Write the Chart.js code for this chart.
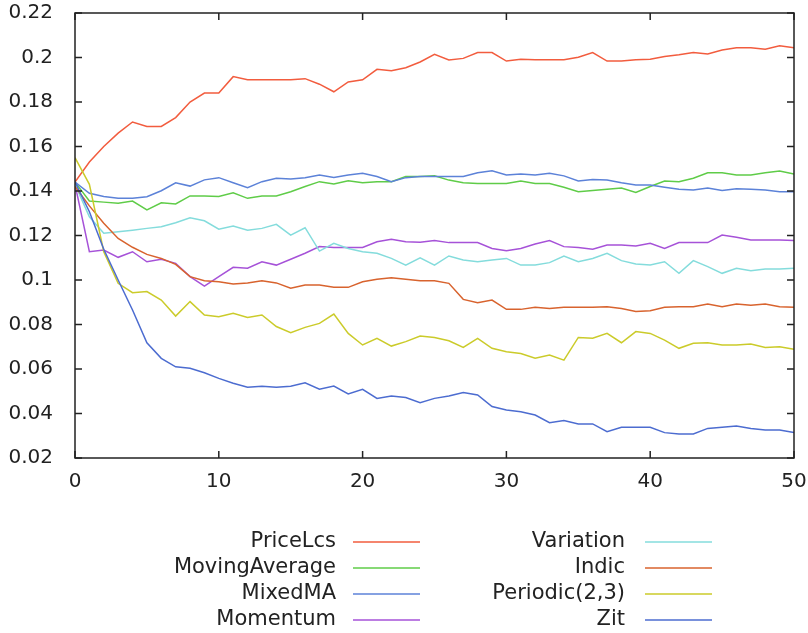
<!DOCTYPE html>
<html>
<head>
<meta charset="utf-8">
<script src="https://cdn.jsdelivr.net/npm/chart.js@4/dist/chart.umd.min.js"></script>
<style>
  html, body { margin: 0; padding: 0; background: #fff; }
  #wrap { width: 808px; height: 633px; position: relative; }
</style>
</head>
<body>
<div id="wrap"><canvas id="chart"></canvas></div>
<script>
const steps = [0, 1, 2, 3, 4, 5, 6, 7, 8, 9, 10, 11, 12, 13, 14, 15, 16, 17, 18, 19, 20,
  21, 22, 23, 24, 25, 26, 27, 28, 29, 30, 31, 32, 33, 34, 35, 36, 37, 38, 39, 40,
  41, 42, 43, 44, 45, 46, 47, 48, 49, 50];

const priceLcs = [0.144, 0.153, 0.160, 0.166, 0.171, 0.169, 0.169, 0.173, 0.180, 0.184, 0.184,
  0.1914, 0.190, 0.190, 0.190, 0.190, 0.1905, 0.188, 0.1846, 0.189, 0.190,
  0.1947, 0.194, 0.1954, 0.198, 0.2014, 0.1989, 0.1996, 0.2022, 0.2022, 0.1984,
  0.1992, 0.199, 0.199, 0.199, 0.2001, 0.2022, 0.1984, 0.1984, 0.199, 0.1992,
  0.2004, 0.2012, 0.2022, 0.2016, 0.2034, 0.2044, 0.2044, 0.2037, 0.2053, 0.2044];

const movingAverage = [0.144, 0.1355, 0.135, 0.1345, 0.1355, 0.1315, 0.1347, 0.1342, 0.1378, 0.1378, 0.1375,
  0.1392, 0.1367, 0.1378, 0.1378, 0.1397, 0.142, 0.1442, 0.1432, 0.1446, 0.1437,
  0.1442, 0.1442, 0.1465, 0.1465, 0.1468, 0.1449, 0.1437, 0.1434, 0.1434, 0.1434,
  0.1445, 0.1434, 0.1434, 0.1417, 0.1397, 0.1402, 0.1408, 0.1413, 0.1393, 0.142,
  0.1445, 0.1442, 0.1457, 0.1482, 0.1482, 0.1472, 0.1472, 0.1482, 0.149, 0.1476];

const mixedMA = [0.144, 0.139, 0.1375, 0.1367, 0.1367, 0.1374, 0.1401, 0.1437, 0.1422, 0.145, 0.146,
  0.1437, 0.1415, 0.1442, 0.1457, 0.1454, 0.146, 0.1472, 0.1461, 0.1472, 0.148,
  0.1465, 0.1442, 0.146, 0.1465, 0.1465, 0.1465, 0.1465, 0.1482, 0.1491, 0.1472,
  0.1476, 0.1472, 0.148, 0.1468, 0.1445, 0.1452, 0.1449, 0.1437, 0.1427, 0.1427,
  0.1417, 0.1408, 0.1405, 0.1413, 0.1402, 0.141, 0.1408, 0.1405, 0.1397, 0.1397];

const momentum = [0.143, 0.1127, 0.1135, 0.1102, 0.1127, 0.1082, 0.1093, 0.1075, 0.1015, 0.0973, 0.1015,
  0.1057, 0.1053, 0.1082, 0.1067, 0.1093, 0.112, 0.115, 0.1146, 0.1146, 0.1146,
  0.1172, 0.1183, 0.1172, 0.117, 0.1177, 0.1168, 0.1168, 0.1168, 0.1142, 0.1132,
  0.1142, 0.1162, 0.1177, 0.115, 0.1146, 0.1138, 0.1157, 0.1157, 0.1153, 0.1165,
  0.1142, 0.1168, 0.1168, 0.1168, 0.1202, 0.1192, 0.118, 0.118, 0.118, 0.1177];

const variation = [0.143, 0.1284, 0.121, 0.1217, 0.1224, 0.1232, 0.1239, 0.1257, 0.128, 0.1266, 0.1228,
  0.1243, 0.1224, 0.1232, 0.125, 0.1202, 0.1235, 0.113, 0.1165, 0.1142, 0.1127,
  0.112, 0.1097, 0.1067, 0.11, 0.1067, 0.1108, 0.109, 0.1082, 0.109, 0.1097,
  0.1067, 0.1067, 0.1078, 0.1108, 0.1082, 0.1097, 0.112, 0.1087, 0.1072, 0.1067,
  0.1082, 0.103, 0.1087, 0.106, 0.103, 0.1053, 0.1042, 0.1049, 0.1049, 0.1053];

const indic = [0.142, 0.1333, 0.1255, 0.1187, 0.1147, 0.1115, 0.1097, 0.107, 0.1015, 0.0997, 0.0992,
  0.0982, 0.0987, 0.0997, 0.0987, 0.0963, 0.0978, 0.0978, 0.0967, 0.0967, 0.0992,
  0.1003, 0.101, 0.1003, 0.0997, 0.0997, 0.0985, 0.0913, 0.0898, 0.091, 0.0868,
  0.0868, 0.0877, 0.0872, 0.0877, 0.0877, 0.0877, 0.088, 0.0872, 0.0858, 0.0862,
  0.0877, 0.088, 0.088, 0.0892, 0.088, 0.0892, 0.0887, 0.0892, 0.088, 0.0877];

const periodic = [0.155, 0.143, 0.1127, 0.0985, 0.0943, 0.0948, 0.091, 0.0838, 0.0903, 0.0843, 0.0835,
  0.085, 0.0832, 0.0843, 0.0791, 0.0763, 0.0787, 0.0805, 0.0847, 0.076, 0.0708,
  0.0738, 0.0703, 0.0723, 0.0748, 0.0742, 0.0727, 0.0697, 0.0738, 0.0693, 0.0678,
  0.067, 0.0648, 0.0663, 0.064, 0.0742, 0.0738, 0.076, 0.0718, 0.0768, 0.076,
  0.073, 0.0693, 0.0716, 0.0718, 0.0708, 0.0708, 0.0712, 0.0697, 0.07, 0.0689];

const zit = [0.144, 0.1307, 0.1138, 0.100, 0.0865, 0.0718, 0.0648, 0.061, 0.0603, 0.0583, 0.0558,
  0.0536, 0.0518, 0.0523, 0.0518, 0.0523, 0.0538, 0.0509, 0.0523, 0.0488, 0.0509,
  0.0468, 0.0479, 0.0472, 0.0449, 0.0468, 0.0479, 0.0494, 0.0483, 0.0431, 0.0416,
  0.0408, 0.0393, 0.0359, 0.0368, 0.0353, 0.0353, 0.0318, 0.0338, 0.0338, 0.0338,
  0.0314, 0.0308, 0.0308, 0.0333, 0.0338, 0.0344, 0.0333, 0.0326, 0.0326, 0.0314];

const seriesNames = ['PriceLcs', 'MovingAverage', 'MixedMA', 'Momentum',
  'Variation', 'Indic', 'Periodic(2,3)', 'Zit'];
const seriesValues = [priceLcs, movingAverage, mixedMA, momentum, variation, indic, periodic, zit];
const seriesColors = ['#f25c3e', '#5fcc48', '#5c82d8', '#a652d8',
  '#84dcdc', '#d8632e', '#cbcb2a', '#4c6cd0'];

const FONT = 'DejaVu Sans';

function makeDatasets() {
  return seriesNames.map(function(name, i) {
    return {
      label: name,
      data: steps.map((x, k) => ({ x: x, y: seriesValues[i][k] })),
      borderColor: seriesColors[i],
      borderWidth: 1.5,
      pointRadius: 0,
      tension: 0,
      fill: false,
      order: seriesNames.length - i
    };
  });
}

// gnuplot style frame: box + inward ticks on all four sides
const framePlugin = {
  id: 'frame',
  afterDraw(chart) {
    const ctx = chart.ctx;
    const a = chart.chartArea;
    const xs = chart.scales.x;
    const ys = chart.scales.y;
    ctx.save();
    ctx.strokeStyle = '#222';
    ctx.lineWidth = 1.5;
    ctx.strokeRect(a.left, a.top, a.right - a.left, a.bottom - a.top);
    ctx.beginPath();
    ys.ticks.forEach(function(t) {
      const y = ys.getPixelForValue(t.value);
      ctx.moveTo(a.left, y); ctx.lineTo(a.left + 7, y);
      ctx.moveTo(a.right, y); ctx.lineTo(a.right - 7, y);
    });
    xs.ticks.forEach(function(t) {
      const x = xs.getPixelForValue(t.value);
      ctx.moveTo(x, a.bottom); ctx.lineTo(x, a.bottom - 7);
      ctx.moveTo(x, a.top); ctx.lineTo(x, a.top + 7);
    });
    ctx.stroke();

    // legend, two columns of four
    ctx.font = '21px "' + FONT + '"';
    ctx.textAlign = 'right';
    ctx.textBaseline = 'middle';
    ctx.lineWidth = 1.5;
    const cols = [{ text: 336, x0: 353, x1: 420 }, { text: 625, x0: 645, x1: 712 }];
    const rows = [542, 568, 594, 620];
    chart.data.datasets.forEach(function(ds, i) {
      const c = cols[Math.floor(i / 4)];
      const y = rows[i % 4];
      ctx.fillStyle = '#222';
      ctx.fillText(ds.label, c.text, y);
      ctx.strokeStyle = ds.borderColor;
      ctx.beginPath();
      ctx.moveTo(c.x0, y); ctx.lineTo(c.x1, y);
      ctx.stroke();
    });
    ctx.restore();
  }
};

function generateChart() {
  const config = {
    type: 'line',
    data: { datasets: makeDatasets() },
    options: {
      responsive: true,
      maintainAspectRatio: false,
      animation: false,
      layout: { padding: { top: 13, right: 14, left: 0, bottom: 0 } },
      plugins: { legend: { display: false }, tooltip: { enabled: false } },
      scales: {
        x: {
          type: 'linear',
          min: 0,
          max: 50,
          grid: { display: false, drawTicks: false },
          border: { display: false },
          ticks: { stepSize: 10, padding: 12, color: '#222', font: { family: FONT, size: 20 } },
          afterFit: s => { s.height = 175; s.paddingLeft = 0; s.paddingRight = 0; }
        },
        y: {
          min: 0.02,
          max: 0.22,
          grid: { display: false, drawTicks: false },
          border: { display: false },
          ticks: {
            stepSize: 0.02,
            padding: 22,
            color: '#222',
            font: { family: FONT, size: 20 },
            callback: v => String(+v.toFixed(2))
          },
          afterFit: s => { s.width = 75; s.paddingTop = 0; s.paddingBottom = 0; }
        }
      }
    },
    plugins: [framePlugin]
  };

  new Chart(document.getElementById('chart'), config);
}

generateChart();
</script>
</body>
</html>
